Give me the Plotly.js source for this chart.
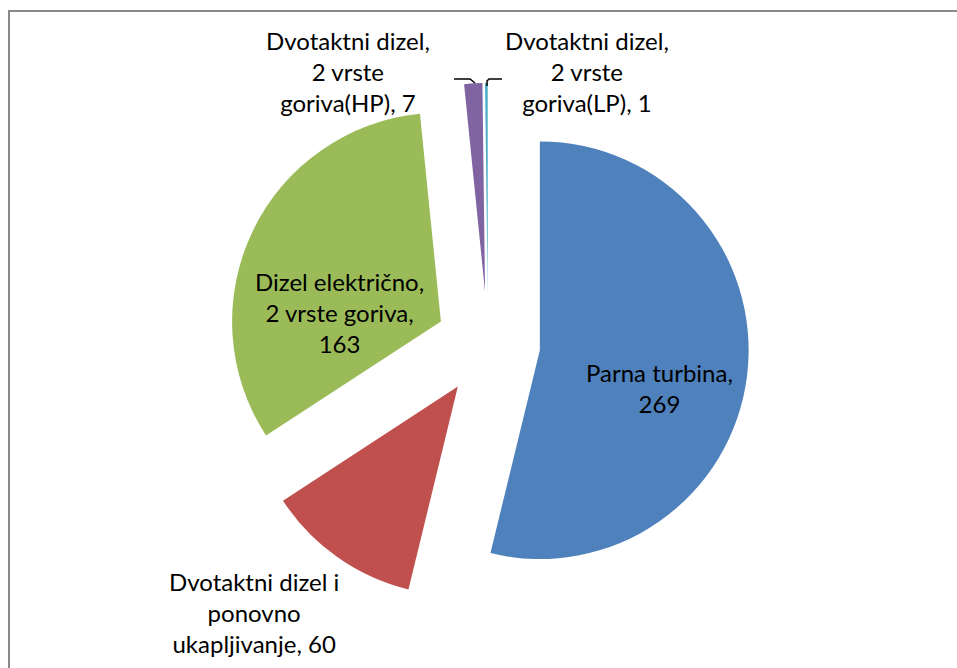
<!DOCTYPE html>
<html>
<head>
<meta charset="utf-8">
<script src="https://cdn.plot.ly/plotly-3.0.1.min.js"></script>
<style>html,body{margin:0;padding:0;background:#fff;}#chart{width:957px;height:668px;}</style>
</head>
<body>
<div id="chart"></div>
<script>
const labels = ["Parna turbina", "Dvotaktni dizel i ponovno ukapljivanje", "Dizel električno, 2 vrste goriva", "Dvotaktni dizel, 2 vrste goriva(HP)", "Dvotaktni dizel, 2 vrste goriva(LP)"];
const values = [269, 60, 163, 7, 1];
const colors = ["#4F81BD", "#C0504D", "#9BBB59", "#8064A2", "#4BACC6"];
const labelTexts = [
  "Parna turbina,<br>" + values[0],
  "Dvotaktni dizel i<br>ponovno<br>ukapljivanje, " + values[1],
  "Dizel električno,<br>2 vrste goriva,<br>" + values[2],
  "Dvotaktni dizel,<br>2 vrste<br>goriva(HP), " + values[3],
  "Dvotaktni dizel,<br>2 vrste<br>goriva(LP), " + values[4]
];

const W = 957, H = 668;
const px = x => x / W;
const py = y => 1 - y / H;

// pie box (pixels)
const cx = 488, cy = 344, half = 261;

const trace = {
  type: 'pie',
  labels: labels,
  values: values,
  sort: false,
  direction: 'clockwise',
  rotation: 0,
  pull: [0.25, 0.25, 0.25, 0.25, 0.25],
  marker: {colors: colors, line: {width: 0}},
  textinfo: 'none',
  hoverinfo: 'label+value',
  showlegend: false,
  domain: {x: [px(cx - half), px(cx + half)], y: [py(cy + half), py(cy - half)]}
};

const labelPos = [[659, 388], [254, 612], [339, 312], [348, 72], [587, 72]];
const annotations = labelTexts.map((t, i) => ({
  text: t, xref: 'paper', yref: 'paper',
  x: px(labelPos[i][0]), y: py(labelPos[i][1]),
  xanchor: 'center', yanchor: 'middle', align: 'center', showarrow: false,
  font: {family: 'Lato, sans-serif', size: 24, color: '#000'}
}));

function pathPx(pts) {
  return pts.map((p, i) => (i ? 'L' : 'M') + px(p[0]) + ',' + py(p[1])).join(' ');
}

const layout = {
  width: W, height: H,
  margin: {l: 0, r: 0, t: 0, b: 0},
  paper_bgcolor: '#fff',
  annotations: annotations,
  shapes: [
    {type: 'rect', xref: 'paper', yref: 'paper', x0: px(9), x1: 1.01, y0: -0.01, y1: py(11),
     line: {color: '#888888', width: 2}, fillcolor: 'rgba(0,0,0,0)'},
    {type: 'path', xref: 'paper', yref: 'paper', path: pathPx([[454, 79], [470, 79], [475, 83]]),
     line: {color: '#000', width: 1.5}},
    {type: 'path', xref: 'paper', yref: 'paper', path: pathPx([[487, 86], [487, 81], [489, 79], [502, 79]]),
     line: {color: '#000', width: 1.5}}
  ]
};

Plotly.newPlot('chart', [trace], layout, {displayModeBar: false, staticPlot: true});
</script>
</body>
</html>
